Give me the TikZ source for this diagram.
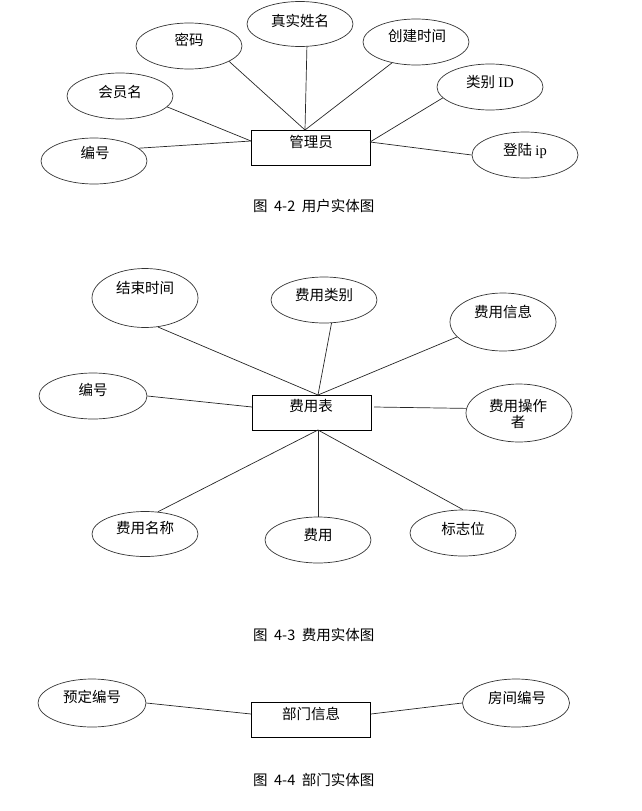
\documentclass[tikz,border=0pt]{standalone}
\usepackage{fontspec}
\newfontfamily\cjk{Noto Sans CJK SC}
\newfontfamily\lat{Liberation Serif}
\usetikzlibrary{shapes.geometric}
\newcommand\capgap{\hspace{6.5pt}}
\begin{document}
\begin{tikzpicture}[x=1pt,y=-1pt,
  attr/.style={ellipse,draw=black!80,line width=0.7pt,minimum width=106pt,minimum height=46pt,inner sep=0pt},
  ent/.style={rectangle,draw=black,line width=0.8pt,minimum width=119pt,minimum height=35pt,inner sep=0pt},
  lbl/.style={inner sep=0pt,font=\cjk\fontsize{14.5}{16}\selectfont},
  figcap/.style={inner sep=0pt,anchor=west,font=\cjk\fontsize{14.5}{16}\selectfont},
  conn/.style={draw=black!85,line width=0.7pt}]
\useasboundingbox (0,0) rectangle (641,811);
% ---------- Figure 4-2 ----------
\node[ent] (box1) at (310.5,147.5) {};
\node[lbl] (t1) at (311,142) {管理员};
\node[attr] (bh1) at (94,161) {};
\node[lbl] (tbh1) at (95,153) {编号};
\node[attr] (hym) at (120,96) {};
\node[lbl] (thym) at (120,92) {会员名};
\node[attr] (mm) at (189,46) {};
\node[lbl] (tmm) at (189,40) {密码};
\node[attr,minimum height=45pt] (zsxm) at (300,24) {};
\node[lbl] (tzsxm) at (300,21) {真实姓名};
\node[attr] (cjsj) at (416,42) {};
\node[lbl] (tcjsj) at (417,36) {创建时间};
\node[attr] (lbid) at (490,87) {};
\node[lbl] (tlbid) at (490,82) {类别 {\lat ID}};
\node[attr] (dlip) at (525,155) {};
\node[lbl] (tdlip) at (525,151) {登陆 {\lat ip}};
\coordinate (b1L) at (251,141);
\coordinate (b1T) at (305,130);
\coordinate (b1R) at (370,142);
\draw[conn] (bh1.16) -- (b1L);
\draw[conn] (hym.-13) -- (b1L);
\draw[conn] (mm.-21) -- (b1T);
\draw[conn] (zsxm.-73) -- (b1T);
\draw[conn] (cjsj.-139) -- (b1T);
\draw[conn] (lbid.-167) -- (b1R);
\draw[conn] (dlip.180) -- (b1R);
\node[figcap] (c42) at (253,206) {图\capgap 4-2\capgap 用户实体图};
% ---------- Figure 4-3 ----------
\node[ent] (box2) at (311.5,412.5) {};
\node[lbl] (t2) at (311,406) {费用表};
\node[attr,minimum height=59pt] (jssj) at (145,298) {};
\node[lbl] (tjssj) at (145,288) {结束时间};
\node[attr] (fylb) at (324,300) {};
\node[lbl] (tfylb) at (324,295) {费用类别};
\node[attr,minimum height=58pt] (fyxx) at (503,322) {};
\node[lbl] (tfyxx) at (503,312) {费用信息};
\node[attr,minimum width=108pt] (bh2) at (93,396) {};
\node[lbl] (tbh2) at (93,390) {编号};
\node[attr,minimum height=58pt] (fyczz) at (519,413) {};
\node[lbl,align=center] (tfyczz) at (518,414) {费用操作\\者};
\node[attr,minimum height=45pt] (fymc) at (145,534) {};
\node[lbl] (tfymc) at (145,528) {费用名称};
\node[attr] (fy) at (318,540) {};
\node[lbl] (tfy) at (318,535) {费用};
\node[attr] (bzw) at (463,533) {};
\node[lbl] (tbzw) at (463,529) {标志位};
\coordinate (b2T) at (318,395);
\coordinate (b2B) at (318,430);
\coordinate (b2L) at (252,407);
\coordinate (b2R) at (374,407);
\draw[conn] (jssj.-66) -- (b2T);
\draw[conn] (fylb.-72) -- (b2T);
\draw[conn] (fyxx.-162) -- (b2T);
\draw[conn] (bh2.east) -- (b2L);
\draw[conn] (b2R) -- (fyczz.175);
\draw[conn] (fymc.60) -- (b2B);
\draw[conn] (fy.north) -- (b2B);
\draw[conn] (bzw.north) -- (b2B);
\node[figcap] (c43) at (253,635) {图\capgap 4-3\capgap 费用实体图};
% ---------- Figure 4-4 ----------
\node[ent] (box3) at (311,719.5) {};
\node[lbl] (t3) at (311,714) {部门信息};
\node[attr,minimum width=108pt,minimum height=48pt] (ydbh) at (92,703) {};
\node[lbl] (tydbh) at (92,697) {预定编号};
\node[attr,minimum width=107pt,minimum height=48pt] (fjbh) at (516,703) {};
\node[lbl] (tfjbh) at (517,698) {房间编号};
\coordinate (b3L) at (251,714);
\coordinate (b3R) at (371,714);
\draw[conn] (ydbh.east) -- (b3L);
\draw[conn] (b3R) -- (fjbh.west);
\node[figcap] (c44) at (253,780) {图\capgap 4-4\capgap 部门实体图};
\end{tikzpicture}
\end{document}
